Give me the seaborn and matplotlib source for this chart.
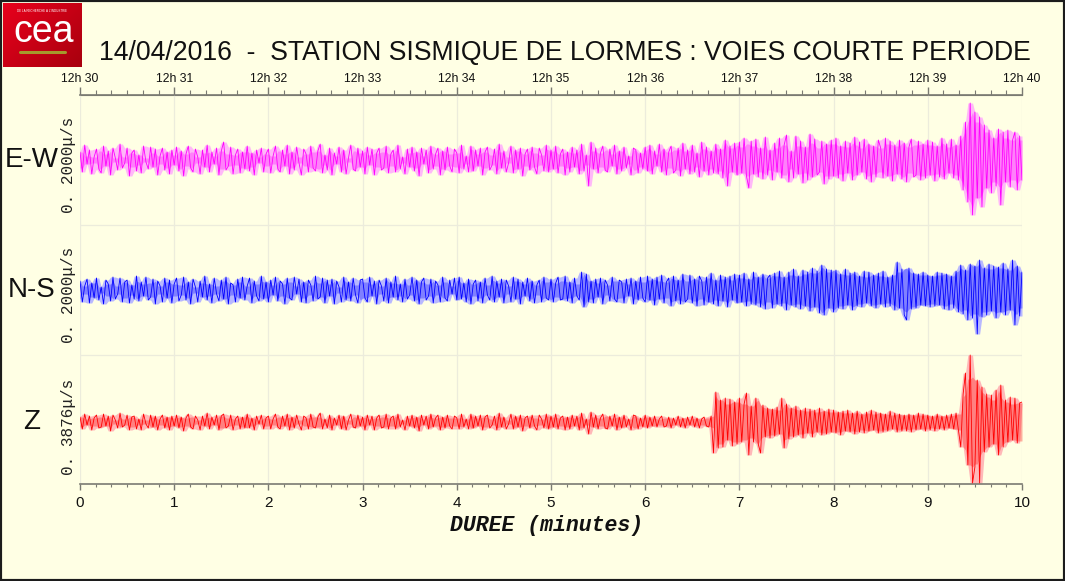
"""Sismogramme trois voies, station de Lormes, 14/04/2016."""

import matplotlib

matplotlib.use("Agg")

import matplotlib.pyplot as plt
import numpy as np
import pandas as pd
import seaborn as sns
from matplotlib.patches import Rectangle
from matplotlib.ticker import MultipleLocator

# amplitudes, in screen pixels (positive = up), 40 per minute
EW_VALUES = [
    8, -12, 15, -4, 10, -14, 3, 11, -9, -13, 14, -6, 9, -15, 12, 2, -10, 16, -8, -3,
    12, -16, 7, 10, -11, 5, -13, 14, -2, -9, 13, -7, 11, -15, 4, 12, -10, 8, -14, 10,
    -5, 13, -11, 9, -16, 6, 14, -8, -12, 11, 3, -14, 10, -7, 15, -12, 8, -4, 12, -15,
    9, 18, -10, -6, 13, -14, 5, 11, -13, 8, -9, 14, -11, 7, -15, 10, -3, 12, -12, 6,
    11, -13, 4, 14, -9, -12, 10, -6, 15, -14, 8, -10, 13, -3, -15, 11, 6, -12, 14, -8,
    -11, 9, 16, -13, 5, -10, 12, -15, 7, -4, 13, -12, 10, -14, 2, 15, -9, -11, 12, -7,
    9, -14, 13, -5, 11, -15, 7, 12, -10, -8, 14, -13, 6, 10, -12, 15, -9, 3, -14, 11,
    -7, 13, -11, 8, -16, 12, -4, 10, -13, 14, -9, 6, 12, -15, 9, -10, 13, -6, -12, 11,
    7, -13, 15, -9, 4, -12, 14, -11, 10, -6, 12, -15, 8, 13, -10, -5, 11, -14, 16, -8,
    9, -12, -3, 14, -13, 10, -9, 12, -16, 6, 11, -10, 13, -7, -14, 12, 5, -11, 15, -12,
    10, -9, 14, -13, 6, 11, -15, 8, -12, 13, -7, 10, -14, 16, -11, 5, -26, 18, -9, 12,
    -13, 7, 14, -10, -12, 11, -6, 15, -14, 9, -11, 13, -8, 4, -15, 12, 10, -13, 7, -9,
    13, -11, 15, -14, 9, -6, 16, -12, 11, -15, 8, 14, -13, -10, 12, -16, 17, -9, 10, -14,
    15, -12, 7, -17, 18, -11, 13, -15, 9, -13, 16, -14, 11, -18, 20, -26, 14, -12, 17, -15,
    18, -13, 22, -16, -28, 19, -14, 21, -17, 12, -19, 23, -15, 10, -20, 17, -12, 22, -18, 15,
    25, -22, 9, -18, 24, -14, 19, -23, 13, -20, 26, -17, 21, -15, -12, 19, -24, 16, -19, 20,
    -16, 22, -18, 14, -21, 19, -13, 17, -20, 23, -15, 18, -12, 21, -19, 16, -22, 14, -17, 20,
    12, -18, 22, -16, 19, -21, 15, -14, 20, -19, 17, -22, 13, 21, -17, -15, 19, -20, 16, -18,
    20, -15, 18, -21, 14, -17, 22, -19, 16, -13, 21, -18, 15, -20, 24, -30, 38, -42, 57, -55,
    48, -38, 43, -47, 35, -28, 30, -33, 22, -26, 31, -45, 28, -22, 30, -27, 20, 28, -30, 24,
    -20,
]
NS_VALUES = [
    9, -12, 4, 11, -13, 7, -8, 12, -10, 3, -14, 10, 6, -11, 13, -9, -4, 12, -12, 8,
    10, -13, 5, -9, 14, -11, 8, -6, 13, -10, -7, 11, -14, 9, 4, -12, 12, -8, 10, -13,
    6, 12, -11, -5, 13, -10, 8, -14, 11, 3, -12, 9, -7, 14, -10, 6, -13, 12, -4, -11,
    10, -9, 13, -14, 7, 5, -12, 11, -8, 13, -10, 4, 12, -13, 9, -6, -11, 14, -9, 8,
    -12, 10, -5, 13, -11, 9, 6, -14, 12, -8, -10, 13, -4, 11, -12, 8, -13, 10, 5, -11,
    14, -9, -7, 12, -13, 10, -6, 11, -14, 9, 3, -12, 13, -10, 8, -11, 12, -5, -13, 10,
    11, -8, -12, 13, -6, 9, -14, 10, 4, -11, 12, -13, 8, -7, 14, -10, 6, -12, 11, -9,
    -5, 13, -11, 10, -14, 8, 12, -10, -6, 11, -13, 9, 5, -12, 13, -8, -11, 10, -4, 12,
    -10, 13, -9, 7, -12, 11, -14, 6, 10, -11, 8, -13, 12, -5, -10, 14, -12, 9, -7, 11,
    -13, 10, 4, -12, 13, -9, 11, -14, 8, -6, 12, -11, 9, -13, 5, 10, -12, 13, -8, -10,
    11, -12, 7, 13, -10, -9, 14, -11, 8, -13, 12, -6, -10, 18, -17, 16, -12, 9, -13, 11,
    -7, 12, -14, 10, 5, -11, 13, -9, -12, 10, 8, -13, 11, -6, 12, -14, 9, -10, 13, -8,
    -12, 14, -10, 11, -15, 13, -9, 15, -13, 8, 12, -16, 14, -11, 10, -14, 16, -12, -9, 15,
    -13, 11, -16, 14, 9, -15, 13, -12, 17, -14, 10, -16, 15, -11, 13, -17, 14, -10, 16, -13,
    15, -12, 17, -16, 11, -14, 18, -15, 13, -17, 16, -19, 12, 15, -18, 17, -14, 19, -16, 13,
    -20, 18, -15, 21, -17, 14, -19, 20, -16, 18, -21, 22, -17, 19, -23, 25, -25, 21, -18, 20,
    -22, 20, -18, 16, -19, 21, -15, 17, -20, 18, -16, 14, -17, 19, -13, 18, -16, 15, -18, 17,
    -14, 19, -17, 13, -16, 15, -20, 28, -18, 21, -25, -30, 22, -19, 17, -18, 16, -15, 18, -16,
    15, -17, 14, -16, 18, -15, 17, -19, 16, -20, 14, -18, 19, -22, 25, -24, 20, -30, 26, -28,
    24, -44, 30, -27, 22, -25, 26, -21, 24, -28, 23, -22, 27, -25, 21, -20, 30, -35, 24, -26,
    18,
]
Z_VALUES = [
    5, -7, 8, -3, 6, -8, 4, 7, -6, -5, 8, -4, 6, -9, 7, 2, -6, 9, -5, -3,
    7, -8, 5, 6, -7, 3, -8, 8, -2, -6, 7, -5, 6, -8, 3, 7, -6, 5, -8, 6,
    -4, 7, -6, 5, -9, 4, 8, -5, -7, 6, 2, -8, 6, -4, 9, -7, 5, -3, 7, -8,
    6, 8, -6, -4, 7, -8, 3, 6, -7, 5, -6, 8, -6, 4, -8, 6, -2, 7, -7, 4,
    6, -7, 3, 8, -5, -7, 6, -4, 8, -8, 5, -6, 7, -2, -8, 6, 4, -7, 8, -5,
    -6, 5, 9, -7, 3, -6, 7, -8, 4, -3, 7, -7, 6, -8, 2, 8, -5, -6, 7, -4,
    5, -8, 7, -3, 6, -8, 4, 7, -6, -5, 8, -7, 4, 6, -7, 8, -5, 2, -8, 6,
    -4, 7, -6, 5, -9, 7, -3, 6, -7, 8, -5, 4, 7, -8, 5, -6, 7, -4, -7, 6,
    4, -7, 8, -5, 3, -7, 8, -6, 6, -4, 7, -8, 5, 7, -6, -3, 6, -8, 9, -5,
    5, -7, -2, 8, -7, 6, -5, 7, -9, 4, 6, -6, 7, -4, -8, 7, 3, -6, 8, -7,
    6, -5, 8, -7, 4, 6, -8, 5, -7, 7, -4, 6, -8, 9, -6, 3, -12, 10, -5, 7,
    -7, 4, 8, -6, -7, 6, -4, 8, -8, 5, -6, 7, -5, 3, -8, 7, 6, -7, 4, -5,
    7, -6, 5, -4, 6, -5, 3, 6, -5, -4, 5, -6, 4, -3, 6, -5, 4, -6, 5, -3,
    6, -5, 4, -6, 3, 5, -4, -5, 6, -31, 30, -26, 22, -25, 24, -18, 23, -24, 20, -22,
    24, -20, 18, 29, -33, 16, -20, 24, -22, -31, 17, -15, 14, -16, 13, -14, 15, -12, 24, -26,
    18, -17, 14, -15, 16, -13, 12, -16, 14, -11, 13, -15, 12, -10, 14, -13, 11, -12, 13, -10,
    12, -11, 10, -13, 11, -9, 12, -10, 9, -12, 11, -10, 8, -11, 10, -9, 12, -8, 10, -11,
    9, -10, 8, -9, 11, -7, 9, -10, 8, -9, 7, -9, 8, -10, 7, -8, 9, -7, 8, -9,
    7, -8, 6, -9, 8, -7, 6, -8, 7, -6, 8, -7, 9, -8, -25, 28, 49, -43, 67, -61,
    -45, 42, -61, 35, -30, 28, -25, 27, -22, 32, -33, 37, -25, 22, -20, 25, -18, 24, -21, 19,
    20,
]

CHANNELS = ["E-W", "N-S", "Z"]
SCALES = ["0. 2000\u03bc/s", "0. 2000\u03bc/s", "0. 3876\u03bc/s"]
TRACE_COLORS = ["#ff00ff", "#0000ff", "#ff0000"]
HALO_COLORS = ["#ffb8f8", "#b8b8ff", "#ffb8b8"]
MINUTES = list(range(11))
CLOCK_LABELS = [f"12h {30 + m}" for m in MINUTES]
TITLE = "14/04/2016  -  STATION SISMIQUE DE LORMES : VOIES COURTE PERIODE"

BG = "#ffffe4"
GRID = "#ececdc"
AXIS_GREY = "#7a7a72"

# pixel layout of the panel
W, H = 1065, 581
TOP_PX, BOTTOM_PX = 95, 484
LEFT_PX, RIGHT_PX = 80, 1022
CENTERS = [65, 195, 327]  # trace baselines, px below the top axis
SEPARATORS = [130, 260]

sns.set_style("white")
plt.rcParams["font.family"] = ["Liberation Sans", "DejaVu Sans"]

fig = plt.figure(figsize=(W / 100, H / 100), dpi=100, facecolor=BG)
ax = fig.add_axes([
    LEFT_PX / W,
    1 - BOTTOM_PX / H,
    (RIGHT_PX - LEFT_PX) / W,
    (BOTTOM_PX - TOP_PX) / H,
])
ax.set_facecolor(BG)

for values, center, color, halo in zip(
    [EW_VALUES, NS_VALUES, Z_VALUES], CENTERS, TRACE_COLORS, HALO_COLORS
):
    amp = pd.Series(values, dtype=float)
    minute = np.linspace(0, 10, len(amp))
    trace = pd.DataFrame({"minute": minute, "y": center - amp})

    # light envelope of neighbouring swings, then a darker core, then the trace
    roll = amp.rolling(3, center=True, min_periods=1)
    ax.fill_between(minute, center - roll.max(), center - roll.min(),
                    color=halo, linewidth=0, zorder=2)
    core = amp.abs().rolling(3, center=True, min_periods=1).min()
    ax.fill_between(minute, center - core, center + core,
                    color=color, alpha=0.3, linewidth=0, zorder=3)
    sns.lineplot(data=trace, x="minute", y="y", sort=False, estimator=None,
                 color=color, linewidth=0.6, ax=ax, zorder=4)

ax.set_xlim(0, 10)
ax.set_ylim(BOTTOM_PX - TOP_PX, 0)
ax.set_xlabel("")
ax.set_ylabel("")
ax.set_yticks([])

for m in MINUTES:
    ax.axvline(m, color=GRID, linewidth=0.9, zorder=1)
for s in SEPARATORS:
    ax.axhline(s, color=GRID, linewidth=0.9, zorder=1)

for side in ("left", "right"):
    ax.spines[side].set_visible(False)
for side in ("top", "bottom"):
    ax.spines[side].set_color(AXIS_GREY)
    ax.spines[side].set_linewidth(1.2)

ax.xaxis.set_minor_locator(MultipleLocator(1 / 6))
ax.set_xticks(MINUTES)
ax.set_xticklabels([str(m) for m in MINUTES], fontsize=11, color="#111111")
ax.tick_params(axis="x", which="major", direction="out", length=4.5,
               width=1, color=AXIS_GREY, pad=4, bottom=True)
ax.tick_params(axis="x", which="minor", direction="out", length=2.2,
               width=0.8, color=AXIS_GREY, bottom=True)

top = ax.secondary_xaxis("top")
top.set_xticks(MINUTES)
top.set_xticklabels(CLOCK_LABELS, fontsize=8.8, color="#111111")
top.xaxis.set_minor_locator(MultipleLocator(1 / 6))
top.tick_params(axis="x", which="major", direction="out", length=6,
                width=1, color=AXIS_GREY, pad=1.5)
top.tick_params(axis="x", which="minor", direction="out", length=3.6,
                width=0.8, color=AXIS_GREY)
top.spines["top"].set_color(AXIS_GREY)

fig.text(547 / W, 1 - 526 / H, "DUREE (minutes)",
         family="Liberation Mono", fontsize=15.5, fontweight="bold",
         fontstyle="italic", ha="center", va="center", color="#111111")

# channel names and amplitude scales
for name, scale, center in zip(CHANNELS, SCALES, CENTERS):
    y_fig = 1 - (TOP_PX + center) / H
    fig.text(32 / W, y_fig, name, fontsize=20, ha="center", va="center",
             color="#111111")
    fig.text(68 / W, y_fig - 5 / H, scale, family="Liberation Mono",
             fontsize=11.5, rotation=90, ha="center", va="center",
             color="#222222")

fig.text(565 / W, 1 - 53 / H, TITLE, fontsize=19.2, ha="center", va="center",
         color="#111111")

# logo block in the corner
logo = fig.add_axes([3 / W, 1 - 67 / H, 79 / W, 64 / H])
gx, gy = np.meshgrid(np.linspace(0, 1, 80), np.linspace(0, 1, 64))
shade = 0.55 * gx + 0.45 * gy
logo.imshow(shade, cmap=sns.blend_palette(["#e8001c", "#a8000e"], as_cmap=True),
            aspect="auto", extent=(0, 1, 0, 1), origin="upper")
logo.set_xlim(0, 1)
logo.set_ylim(0, 1)
logo.axis("off")
logo.text(0.52, 0.55, "cea", color="white", fontsize=27, ha="center",
          va="center", family="Liberation Sans")
logo.text(0.5, 0.87, "DE LA RECHERCHE \u00c0 L'INDUSTRIE", color="white",
          fontsize=2.2, ha="center", va="center")
logo.plot([0.22, 0.78], [0.24, 0.24], color="#a59a2c", linewidth=2.2)

fig.add_artist(Rectangle((0, 0), 1, 1, transform=fig.transFigure, fill=False,
                         edgecolor="#1c1c1c", linewidth=3))

fig.savefig("out.png", dpi=100, facecolor=BG)
